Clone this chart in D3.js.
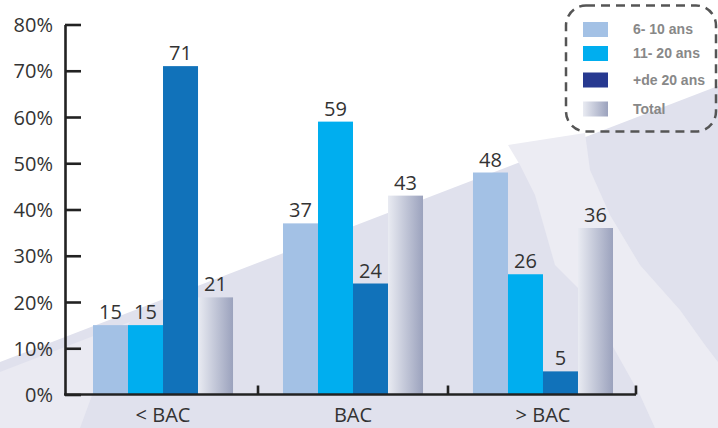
<!DOCTYPE html>
<html>
<head>
<meta charset="utf-8">
<script src="https://cdn.jsdelivr.net/npm/d3@7"></script>
<style>
	html, body { margin: 0; padding: 0; background: #fff; }
	svg { display: block; }
	.axis path, .axis line { stroke: #222; stroke-width: 2.6; }
	.axis text { font-family: "Open Sans", sans-serif; font-size: 20px; fill: #333; }
	.value { font-family: "Open Sans", sans-serif; font-size: 20px; fill: #333; }
	.legend text { font-family: "Liberation Sans", Arial, sans-serif; font-weight: bold; font-size: 14px; fill: #888; }
</style>
</head>
<body>
<div class="chart"></div>
<script>
//---->DATA<-----//
const categories = ['< BAC', 'BAC', '> BAC'];
const seriesKeys = ['6- 10 ans', '11- 20 ans', '+de 20 ans', 'Total'];
const vals6to10 = [15, 37, 48];
const vals11to20 = [15, 59, 26];
const valsOver20 = [71, 24, 5];
const valsTotal = [21, 43, 36];
const yTicks = [0, 10, 20, 30, 40, 50, 60, 70, 80];

const seriesValues = [vals6to10, vals11to20, valsOver20, valsTotal];

const barColors = ['#a3c1e5', '#00aeef', '#1172ba', 'url(#totalGrad)'];
const legendColors = ['#a3c1e5', '#00aeef', '#273990', 'url(#totalGrad)'];

const outerW = 718,
	outerH = 428;

const svg = d3.select('.chart').append('svg')
	.attr('width', outerW)
	.attr('height', outerH);

const defs = svg.append('defs');
const grad = defs.append('linearGradient')
	.attr('id', 'totalGrad')
	.attr('x1', '0%').attr('x2', '100%')
	.attr('y1', '0%').attr('y2', '0%');
grad.append('stop').attr('offset', '0%').attr('stop-color', '#e9ebf2');
grad.append('stop').attr('offset', '100%').attr('stop-color', '#9ba2bd');

// faded map-like background
const bg = svg.append('g').attr('class', 'bg');
bg.append('path')
	.attr('d', 'M0,362 L718,86 L718,428 L0,428 Z')
	.attr('fill', '#e0e1ed');
bg.append('path')
	.attr('d', 'M0,372 L130,322 L105,360 L80,428 L0,428 Z')
	.attr('fill', '#eaeaf2');
bg.append('path')
	.attr('d', 'M508,145 L585,133 L590,170 L610,215 L640,265 L680,310 L705,345 L718,362 L718,428 L655,428 L640,395 L612,345 L590,300 L555,265 L545,230 L535,195 L520,165 Z')
	.attr('fill', '#ececf3');

//---->SCALES<-----//
const x0 = d3.scaleBand()
	.domain(categories)
	.range([68, 638])
	.paddingInner(0.263)
	.paddingOuter(0.1316);

const x1 = d3.scaleBand()
	.domain(seriesKeys)
	.range([0, x0.bandwidth()]);

const y = d3.scaleLinear()
	.domain([0, 80])
	.range([394.5, 24.5]);

const g = svg.append('g');

// bars
const groups = g.selectAll('.group')
	.data(categories)
	.enter().append('g')
	.attr('class', 'group')
	.attr('transform', d => `translate(${x0(d)}, 0)`);

groups.each(function(cat, ci) {
	const rows = seriesKeys.map((k, si) => ({ key: k, si: si, v: seriesValues[si][ci] }));
	const grp = d3.select(this);

	grp.selectAll('rect')
		.data(rows)
		.enter().append('rect')
		.attr('x', d => x1(d.key))
		.attr('y', d => y(d.v))
		.attr('width', x1.bandwidth())
		.attr('height', d => y(0) - y(d.v))
		.attr('fill', d => barColors[d.si]);

	grp.selectAll('text')
		.data(rows)
		.enter().append('text')
		.attr('class', 'value')
		.attr('x', d => x1(d.key) + x1.bandwidth() / 2)
		.attr('y', d => y(d.v) - 6)
		.attr('text-anchor', 'middle')
		.text(d => d.v);
});

//---->AXES<-----//
const yAxis = g.append('g')
	.attr('class', 'y axis')
	.attr('transform', 'translate(65, 0)')
	.call(d3.axisLeft(y)
		.tickValues(yTicks)
		.tickFormat(d => d + '%')
		.tickSize(-16)
		.tickSizeOuter(0)
		.tickPadding(12)
	);
yAxis.selectAll('text').attr('dy', '0.36em');

const xAxis = g.append('g')
	.attr('class', 'x axis')
	.attr('transform', `translate(0, ${y(0)})`);

xAxis.append('line')
	.attr('x1', 64)
	.attr('x2', x0.range()[1] - 2)
	.attr('y1', 0)
	.attr('y2', 0);

xAxis.selectAll('.sep')
	.data(categories)
	.enter().append('line')
	.attr('class', 'sep')
	.attr('x1', d => x0(d) + x0.bandwidth() + x0.step() * x0.paddingInner() / 2 - (d === '> BAC' ? 2 : 0))
	.attr('x2', d => x0(d) + x0.bandwidth() + x0.step() * x0.paddingInner() / 2 - (d === '> BAC' ? 2 : 0))
	.attr('y1', 0)
	.attr('y2', -9);

xAxis.selectAll('.cat')
	.data(categories)
	.enter().append('text')
	.attr('class', 'cat')
	.attr('x', d => x0(d) + x0.bandwidth() / 2)
	.attr('y', 27)
	.attr('text-anchor', 'middle')
	.style('font-size', '20px')
	.text(d => d);

//---->LEGEND<-----//
const legend = svg.append('g').attr('class', 'legend');

legend.append('rect')
	.attr('x', 566)
	.attr('y', 5.5)
	.attr('width', 150)
	.attr('height', 126)
	.attr('rx', 20)
	.attr('fill', 'none')
	.attr('stroke', '#555')
	.attr('stroke-width', 2.5)
	.attr('stroke-dasharray', '9 6');

const rowTop = [22, 46, 72.5, 101.5];

const items = legend.selectAll('.item')
	.data(seriesKeys)
	.enter().append('g')
	.attr('class', 'item')
	.attr('transform', (d, i) => `translate(583, ${rowTop[i]})`);

items.append('rect')
	.attr('width', 25)
	.attr('height', 15)
	.attr('fill', (d, i) => legendColors[i]);

items.append('text')
	.attr('x', 50)
	.attr('y', 12)
	.text(d => d);
</script>
</body>
</html>
